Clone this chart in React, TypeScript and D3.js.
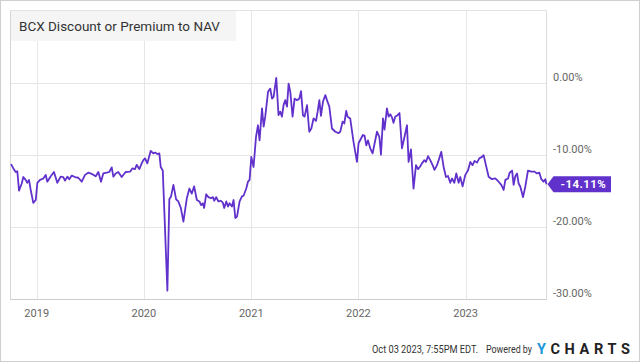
import React from 'react';
import * as d3 from 'd3';

const years = [
  2018.760, 2018.782, 2018.804, 2018.819, 2018.835, 2018.860, 2018.875, 2018.897, 2018.912, 2018.928,
  2018.944, 2018.968, 2018.991, 2019.006, 2019.031, 2019.062, 2019.084, 2019.099, 2019.131, 2019.161,
  2019.192, 2019.224, 2019.248, 2019.264, 2019.286, 2019.304, 2019.327, 2019.357, 2019.388, 2019.420,
  2019.451, 2019.481, 2019.519, 2019.551, 2019.575, 2019.600, 2019.621, 2019.653, 2019.677, 2019.700,
  2019.715, 2019.737, 2019.761, 2019.793, 2019.830, 2019.871, 2019.892, 2019.917, 2019.933, 2019.957,
  2019.980, 2019.995, 2020.011, 2020.032, 2020.064, 2020.088, 2020.104, 2020.126, 2020.144, 2020.157,
  2020.176, 2020.219, 2020.237, 2020.253, 2020.275, 2020.300, 2020.321, 2020.344, 2020.368, 2020.400,
  2020.424, 2020.446, 2020.468, 2020.493, 2020.517, 2020.533, 2020.549, 2020.561, 2020.580, 2020.601,
  2020.624, 2020.643, 2020.655, 2020.673, 2020.694, 2020.717, 2020.736, 2020.748, 2020.767, 2020.783,
  2020.797, 2020.820, 2020.835, 2020.851, 2020.867, 2020.891, 2020.913, 2020.928, 2020.953, 2020.969,
  2020.984, 2021.000, 2021.021, 2021.044, 2021.062, 2021.077, 2021.100, 2021.115, 2021.130, 2021.156,
  2021.177, 2021.193, 2021.208, 2021.233, 2021.254, 2021.270, 2021.286, 2021.301, 2021.317, 2021.333,
  2021.348, 2021.364, 2021.385, 2021.404, 2021.427, 2021.448, 2021.464, 2021.482, 2021.497, 2021.520,
  2021.541, 2021.560, 2021.581, 2021.604, 2021.619, 2021.635, 2021.650, 2021.669, 2021.691, 2021.706,
  2021.728, 2021.753, 2021.784, 2021.815, 2021.830, 2021.852, 2021.868, 2021.886, 2021.898, 2021.923,
  2021.954, 2021.970, 2021.986, 2022.001, 2022.041, 2022.057, 2022.073, 2022.089, 2022.110, 2022.132,
  2022.151, 2022.173, 2022.195, 2022.210, 2022.229, 2022.243, 2022.266, 2022.281, 2022.297, 2022.313,
  2022.327, 2022.343, 2022.365, 2022.383, 2022.406, 2022.430, 2022.453, 2022.468, 2022.490, 2022.514,
  2022.537, 2022.556, 2022.577, 2022.593, 2022.615, 2022.630, 2022.649, 2022.670, 2022.692, 2022.710,
  2022.733, 2022.754, 2022.773, 2022.795, 2022.817, 2022.836, 2022.857, 2022.873, 2022.895, 2022.913,
  2022.935, 2022.950, 2022.972, 2022.997, 2023.022, 2023.044, 2023.065, 2023.084, 2023.106, 2023.128,
  2023.153, 2023.168, 2023.215, 2023.246, 2023.277, 2023.308, 2023.333, 2023.355, 2023.371, 2023.396,
  2023.411, 2023.434, 2023.448, 2023.464, 2023.480, 2023.495, 2023.511, 2023.536, 2023.557, 2023.582,
  2023.613, 2023.643, 2023.666, 2023.688, 2023.707, 2023.728, 2023.744, 2023.755,
];

const premium = [
  -11.3, -11.9, -12.4, -12.3, -15.0, -14.0, -13.1, -13.5, -13.9, -13.5,
  -14.9, -16.7, -16.3, -13.9, -13.5, -13.3, -12.8, -13.75, -13.0, -12.4,
  -13.9, -13.05, -13.1, -13.6, -13.05, -13.4, -12.9, -13.1, -13.2, -13.75,
  -12.8, -12.5, -12.7, -13.0, -12.4, -13.75, -12.6, -12.5, -12.4, -11.75,
  -13.05, -12.6, -12.4, -13.1, -12.4, -12.35, -11.9, -12.0, -11.4, -12.0,
  -11.2, -10.75, -10.5, -11.2, -9.45, -9.8, -9.7, -9.9, -9.8, -11.7,
  -12.2, -28.9, -16.2, -15.8, -14.2, -16.2, -16.5, -17.4, -19.3, -16.05,
  -14.7, -15.4, -14.4, -16.3, -16.5, -17.0, -16.75, -17.4, -15.5, -15.9,
  -16.05, -15.9, -16.4, -15.9, -16.5, -16.4, -16.7, -17.4, -16.5, -17.2,
  -16.75, -17.2, -16.3, -18.8, -18.6, -16.5, -15.8, -15.7, -14.7, -13.75,
  -13.5, -10.3, -11.7, -7.5, -5.9, -8.0, -3.55, -6.1, -4.7, -1.25,
  -0.8, -2.2, -1.95, 0.7, -4.5, -4.0, -4.7, -3.1, -2.4, -3.3,
  -0.1, -1.25, -4.7, -2.2, -2.4, -2.2, -1.15, -4.5, -4.7, -3.1,
  -6.8, -6.35, -4.95, -5.3, -4.0, -2.4, -4.6, -2.6, -1.7, -2.4,
  -3.3, -6.35, -6.8, -7.0, -6.8, -5.4, -5.65, -3.9, -4.7, -4.95,
  -8.2, -9.6, -11.0, -8.4, -7.25, -7.35, -8.7, -8.0, -9.1, -9.8,
  -8.4, -6.8, -7.5, -10.0, -4.95, -6.5, -3.55, -4.7, -4.35, -4.8,
  -5.55, -4.7, -4.5, -4.2, -9.1, -7.5, -5.9, -11.0, -9.25, -14.7,
  -11.45, -12.0, -11.6, -11.2, -10.75, -11.0, -10.2, -10.75, -11.45, -12.1,
  -11.45, -10.5, -9.6, -11.7, -13.1, -12.95, -13.9, -13.3, -13.9, -12.6,
  -13.9, -13.1, -14.4, -12.8, -12.2, -11.0, -11.45, -10.85, -11.1, -10.5,
  -10.3, -10.05, -13.05, -13.4, -13.3, -13.75, -14.2, -14.9, -13.5, -13.3,
  -12.5, -12.2, -14.2, -13.0, -12.6, -14.0, -14.45, -15.9, -14.45, -12.2,
  -12.35, -12.35, -12.6, -12.5, -13.4, -13.75, -13.4, -14.11,
];

const yTicks = [0, -10, -20, -30];
const xTickYears = [2019, 2020, 2021, 2022, 2023];

const W = 640;
const H = 362;
const purple = '#6131cc';
const font = 'Roboto, "Noto Sans", sans-serif';

function toDate(y: number) {
  const yr = Math.floor(y);
  const a = new Date(yr, 0, 1).getTime();
  const b = new Date(yr + 1, 0, 1).getTime();
  return new Date(a + (y - yr) * (b - a));
}

export default function App() {
  const left = 10.5;
  const right = 546.5;
  const top = 10.5;
  const bottom = 299.5;

  const data = years.map((y, i) => ({ date: toDate(y), value: premium[i] }));

  const x = d3.scaleTime()
    .domain([data[0].date, data[data.length - 1].date])
    .range([11, 546.5]);
  const y = d3.scaleLinear().domain([-30, 10]).range([298.5, 11]);

  const line = d3.line<{ date: Date; value: number }>()
    .x((d) => x(d.date))
    .y((d) => y(d.value));

  const last = data[data.length - 1];
  const ly = y(last.value);
  const tipX = 547.5;
  const boxL = 553.5;
  const boxR = 611;
  const boxH = 16;

  return (
    <svg width={W} height={H} style={{ position: 'absolute', left: 0, top: 0, background: '#fff' }}>
      <rect x={0.5} y={0.5} width={W - 1} height={H - 1} fill="#fff" stroke="#cfcfcf" />

      {/* grid */}
      {yTicks.map((t) => (
        <line key={'gy' + t} x1={left} x2={right} y1={Math.round(y(t)) + 0.5} y2={Math.round(y(t)) + 0.5} stroke="#e6e6e6" />
      ))}
      {xTickYears.map((yr) => {
        const px = Math.round(x(new Date(yr, 0, 1))) + 0.5;
        return <line key={'gx' + yr} x1={px} x2={px} y1={top} y2={bottom} stroke="#e6e6e6" />;
      })}

      {/* frame */}
      <line x1={left} x2={right} y1={top} y2={top} stroke="#e3e3e3" />
      <line x1={right} x2={right} y1={top} y2={bottom} stroke="#dcdcdc" />
      <line x1={left} x2={left} y1={top} y2={bottom} stroke="#d6d6d6" />
      <line x1={left} x2={right} y1={bottom} y2={bottom} stroke="#cccccc" />

      {/* title */}
      <rect x={11} y={11} width={225} height={30} fill="#f5f5f5" />
      <text x={19} y={31} fontFamily={font} fontSize={13.5} fill="#333">
        BCX Discount or Premium to NAV
      </text>

      <path d={line(data) || ''} fill="none" stroke={purple} strokeWidth={1.8} strokeLinejoin="round" />

      {/* y labels */}
      {yTicks.map((t) => (
        <text key={'ty' + t} x={553} y={y(t) - 2} fontFamily={font} fontSize={11} fill="#666">
          {t.toFixed(2) + '%'}
        </text>
      ))}

      {/* x labels */}
      {xTickYears.map((yr) => (
        <text key={'tx' + yr} x={x(new Date(yr, 0, 1))} y={317} textAnchor="middle" fontFamily={font} fontSize={11} fill="#666">
          {yr}
        </text>
      ))}

      {/* last value flag */}
      <path
        d={`M${tipX},${ly} L${boxL},${ly - boxH / 2} L${boxR},${ly - boxH / 2} L${boxR},${ly + boxH / 2} L${boxL},${ly + boxH / 2} Z`}
        fill={purple}
      />
      <text x={(boxL + boxR) / 2 + 1} y={ly + 4} textAnchor="middle" fontFamily={font} fontSize={11.5} fontWeight="bold" fill="#fff" letterSpacing={0.4}>
        {last.value.toFixed(2) + '%'}
      </text>

      {/* footer */}
      <text x={372} y={353} fontFamily={font} fontSize={10} fill="#333" textLength={106} lengthAdjust="spacingAndGlyphs">
        Oct 03 2023, 7:55PM EDT.
      </text>
      <text x={486} y={353} fontFamily={font} fontSize={10} fill="#333" textLength={46} lengthAdjust="spacingAndGlyphs">
        Powered by
      </text>
      <text x={537} y={354} fontFamily={font} fontSize={14.5} fontWeight="bold" fill="#222" textLength={93} lengthAdjust="spacing">
        <tspan fill="#1e96d8">Y</tspan>CHARTS
      </text>
    </svg>
  );
}
